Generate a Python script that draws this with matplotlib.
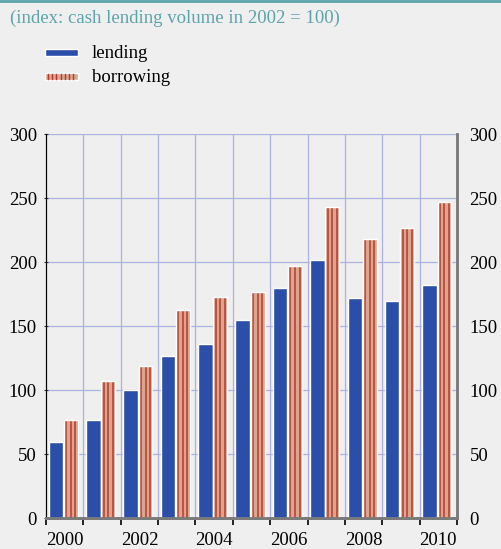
import matplotlib
matplotlib.use("Agg")
import matplotlib.pyplot as plt
from matplotlib.patches import Rectangle
import numpy as np

# Data
years = ["2000", "2001", "2002", "2003", "2004", "2005", "2006", "2007", "2008", "2009", "2010"]
lending = [60, 77, 100, 127, 136, 155, 180, 202, 172, 170, 182]
borrowing = [77, 107, 119, 163, 173, 177, 197, 243, 218, 227, 247]
yticks = [0, 50, 100, 150, 200, 250, 300]

bg = "#efefef"
blue = "#2b4ea8"
salmon = "#d9a690"
stripe = "#b93a2b"
grid_col = "#aab2e2"
teal = "#5ba4aa"
fs = 13.5

plt.rcParams["font.family"] = ["Liberation Serif", "DejaVu Serif"]

fig = plt.figure(figsize=(5.01, 5.49), dpi=100, facecolor=bg)
ax = fig.add_axes([0.0918, 0.0556, 0.8204, 0.7003], facecolor=bg)

x = np.arange(len(years))
lw_w, bw_w = 0.39, 0.37
ax.bar(x - 0.235, lending, width=lw_w, color=blue, edgecolor="white", linewidth=1, zorder=3)
bx = x + 0.165
ax.bar(bx, borrowing, width=bw_w, color=salmon, edgecolor="none", zorder=3)
# three vertical stripes inside each borrowing bar
for f in (-0.33, 0.0, 0.33):
    ax.vlines(bx + f * bw_w, 0, borrowing, color=stripe, lw=1.1, zorder=4)
ax.bar(bx, borrowing, width=bw_w, color="none", edgecolor="white", linewidth=1, zorder=5)

ax.set_xlim(-0.5, len(years) - 0.5)
ax.set_ylim(0, 300)

# vertical grid at category boundaries, horizontal grid at ticks
for b in np.arange(0.5, len(years) - 1, 1.0):
    ax.axvline(b, color=grid_col, lw=0.9, zorder=1)
for t in yticks[1:]:
    ax.axhline(t, color=grid_col, lw=0.9, zorder=1)

ax.set_xticks(np.arange(-0.5, len(years), 1.0))
ax.set_xticklabels([])
ax.tick_params(axis="x", length=5, width=1.2, color="black", direction="out")
for i in range(0, len(years), 2):
    ax.text(i, -10.5, years[i], ha="center", va="top", fontsize=fs)

ax.set_yticks(yticks)
ax.set_yticklabels([str(t) for t in yticks], fontsize=fs)
ax.tick_params(axis="y", length=3, color="#333333", direction="inout", pad=5)

ax2 = ax.twinx()
ax2.set_ylim(0, 300)
ax2.set_yticks(yticks)
ax2.set_yticklabels([str(t) for t in yticks], fontsize=fs)
ax2.tick_params(axis="y", length=0, pad=9)

for a in (ax, ax2):
    a.spines["top"].set_visible(False)
    a.spines["left"].set_color("black")
    a.spines["right"].set_color("#7a7a7a")
    a.spines["right"].set_linewidth(1.8)
    a.spines["bottom"].set_color("#7a7a7a")
    a.spines["bottom"].set_linewidth(2)

# top rule and subtitle
W, H = 501.0, 549.0
fig.add_artist(plt.Line2D([0, 1], [0.998, 0.998], color=teal, lw=2))
fig.text(10 / W, 1 - 18 / H, "(index: cash lending volume in 2002 = 100)", color=teal,
         fontsize=fs, ha="left", va="center")

# legend drawn in figure pixels
leg_x0, leg_x1 = 45, 78
for yc, kind, label in [(52.5, "lend", "lending"), (76.5, "borr", "borrowing")]:
    fc = blue if kind == "lend" else salmon
    fig.add_artist(Rectangle((leg_x0 / W, 1 - (yc + 3.5) / H), (leg_x1 - leg_x0) / W, 7 / H,
                             transform=fig.transFigure, facecolor=fc, edgecolor="white", lw=1))
    if kind == "borr":
        for sx in np.arange(leg_x0 + 3, leg_x1 - 1, 4.2):
            fig.add_artist(plt.Line2D([sx / W, sx / W], [1 - (yc + 2.8) / H, 1 - (yc - 2.8) / H],
                                      color=stripe, lw=1))
    fig.text(92 / W, 1 - (yc + 1) / H, label, fontsize=fs, ha="left", va="center")

fig.savefig("out.png", dpi=100, facecolor=bg)
